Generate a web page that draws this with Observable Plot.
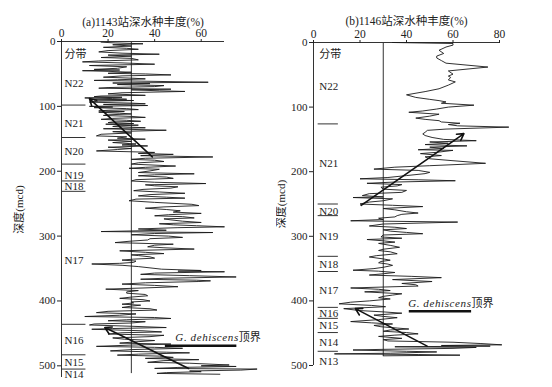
<!DOCTYPE html>
<html><head><meta charset="utf-8">
<script src="https://cdn.jsdelivr.net/npm/d3@7"></script>
<script src="https://cdn.jsdelivr.net/npm/@observablehq/plot@0.6"></script>
<style>
body{margin:0;background:#fff;}
#wrap{position:relative;width:552px;height:387px;background:#fff;}
#wrap svg{position:absolute;top:0;}
</style></head><body><div id="wrap"></div>
<script>
// ---------- DATA ----------
const depthTicks = [0, 100, 200, 300, 400, 500];
const aTicksX = [0, 20, 40, 60];
const bTicksX = [0, 20, 40, 60, 80];

// ODP 1143: [depth (mcd), deep-water species abundance (%)]
const aProfile = [[1,17],[2.2,23],[3.5,35],[5,22],[7,30],[9,18],[10.5,28],[12,33],[14,20],[16,16],[18,26],[19.6,42],[21,20],[22.5,30],[24.7,17],[26,30],[28.3,33],[30,16],[31.4,9],[33,26],[35,40],[37,12],[39,28],[41.3,24],[43,14],[44,25],[45,9],[46,20],[47.4,30],[49,20],[50,36],[51.5,47],[53,26],[55,18],[56.5,30],[57.6,36],[59,24],[60,14],[61,32],[62.8,63],[64,22],[65,38],[66.4,24],[68,44],[69.5,40],[71,20],[72,16],[73.5,47],[74.5,30],[76,42],[77,53],[79,26],[80.7,20],[82,30],[83,36],[84,17],[85,14],[86,26],[87,10],[88,22],[89,28],[90,14],[91,31],[92,16],[93.5,12],[95,30],[96,36],[97,18],[98.7,37],[100,12],[101,22],[102,14],[103.5,28],[105,33],[106,20],[107,16],[108,27],[109,16],[110.5,25],[111.7,30],[113,20],[114,18],[115.5,30],[117,36],[118.5,22],[120,17],[121.5,28],[123,34],[124,22],[125,20],[126.5,31],[127.5,19],[129,33],[130,24],[131,22],[133,36],[134.5,18],[136.8,45],[139,22],[141,30],[143,17],[145.5,15],[147,28],[149,24],[150.6,36],[152,20],[154,30],[155.8,22],[158,32],[159.5,26],[161,37],[163,20],[165,30],[166.5,24],[168.7,15],[170,30],[171,40],[172.5,33],[174,48],[176,34],[178,65],[180,36],[181.7,30],[183,40],[185,44],[187,33],[189,30],[192,49],[194,36],[195.5,29],[197,42],[199.5,38],[202,33],[204,57],[205.5,40],[207,33],[209,45],[211,48],[213,32],[215,30],[217,40],[219,62],[221,36],[222.5,40],[224,50],[226,47],[228,35],[230,31],[232,42],[234,53],[236,38],[238,33],[240,45],[241.5,53],[243,32],[245.5,29],[248,40],[251,56],[253,59],[255,44],[257,36],[259,45],[261,51],[263,48],[265,60],[267,46],[268.7,40],[270,52],[272,57],[273.5,44],[275,47],[277,52],[279,60],[281,42],[282.6,48],[284,58],[285.7,70],[287,50],[289,33],[291,45],[293,17],[294.5,65],[296,40],[298,30],[300,46],[302,52],[304,38],[306,37],[308,29],[310,23],[312.5,48],[314,40],[316.5,37],[318,44],[320,57],[322.7,25],[325,36],[327,44],[329,30],[330,33],[332,38],[334,40],[335.5,31],[337,26],[338.5,32],[340.5,31],[342,25],[343,13],[345,26],[347,33],[349,38],[351,43],[353,60],[354,50],[355,70],[357,40],[359,34],[361,55],[363,75],[365,44],[366.5,34],[368,58],[369,64],[370,59],[372,36],[374,26],[376,40],[378,50],[380,35],[381.8,19],[384,33],[386,28],[388,28],[390,36],[392,37],[394,30],[396,25],[398,35],[400,38],[401.5,30],[403,31],[405,26],[406.5,34],[408,30],[410,26],[412,38],[414,41],[416,20],[418,15],[420,32],[422,25],[424,10],[425.5,40],[427,47],[429,28],[430.5,20],[432,36],[434,30],[435.5,14],[437,12],[439,30],[441,45],[442.5,22],[443.6,13],[446,35],[447.7,43],[449,26],[451,20],[453,44],[455,38],[457,22],[459,27],[461,40],[463,32],[465,25],[466.5,47],[468,30],[470,15],[471.5,40],[473,52],[475,30],[477,21],[479,45],[480,55],[482,33],[483.5,24],[485,42],[487,48],[488.5,36],[490.5,59],[492,44],[494.6,37],[496,55],[498.7,72],[500,60],[501,75],[502.5,50],[504,40],[505,84],[506.6,77],[508,55],[509,60],[510.5,45],[511.7,41],[513,68]];

// ODP 1146
const bProfile = [[0,34],[1.5,60],[4,60],[7,57],[12,54],[17,56],[21,53],[24,53],[28,55],[32,57],[38,75],[44,58],[49,60],[52,58],[54,59],[58,58],[61,61],[66,58],[71.6,54],[76,48],[81,40],[85,44],[88,50],[90,54],[92,57],[94,55],[97,69],[100,58],[103,53],[106,47],[108,41],[111,54],[114,50],[117,44],[119,48],[121,54],[123,55],[125,63],[127,58],[129,62],[131,84],[134,57],[136,49],[139,48],[141.5,47],[144,48],[147,51],[150,56],[152,70],[154,50],[156,58],[158,48],[160,66],[162,50],[164,56],[166,45],[167,60],[170,53],[172,46],[175,55],[177,48],[180,50],[183,60],[187,74],[190.7,50],[193,35],[196,26],[198,45],[201,50],[203,48],[206,40],[209,32],[211,20],[212.5,45],[214,61],[216,35],[218,23],[220,38],[222,36],[224,29],[227,30],[229,40],[232,38],[234,24],[237,21],[239,30],[240,17],[242,34],[245,30],[247,24],[250,20],[252,34],[254,47],[257,30],[259,35],[262,40],[264,45],[266,38],[268,36],[270,35],[272,28],[274,30],[276,16],[278,62],[281,30],[284,24],[286,35],[288,40],[290,30],[292,33],[294,40],[296,47],[298,30],[301,29],[303,38],[305,23],[307,30],[309,35],[311,28],[314,33],[317,37],[320,30],[322,28],[324,33],[327,36],[330,27],[332,24],[335,30],[337,33],[339,29],[341,28],[343,32],[345,34],[348,30],[350,26],[352.5,17],[354,28],[356,35],[358,30],[360,24],[362,42],[364,55],[367,34],[370,51],[373,38],[375,44],[377,45],[380,16],[382,28],[384,33],[386,22],[389,38],[391,34],[393,30],[395,28],[397,33],[400,24],[402,16],[404.5,11],[407,25],[409,31],[412,13],[415,20],[417,30],[419,38],[422,26],[424,30],[426,36],[429,28],[432,16],[434,25],[435.7,34],[438,26],[440,29],[442,36],[443.5,41],[445,33],[447,30],[449,40],[451,45],[453,35],[455,28],[458,38],[460,30],[462,32],[464,60],[466,72],[468,81],[469,55],[470,76],[471,35],[472,70],[473.5,60],[475,30],[476,17],[478,40],[479,53],[481,33],[482,9],[483,45],[484,63],[485,30]];

// Planktonic foraminiferal zones
const aZoneNames = ["分带","N22","N21","N20","N19","N18","N17","N16","N15","N14"];
const aZoneDepths = [20.6, 65, 126, 169, 207, 224, 337, 461, 495, 513];
const aZoneBounds = [98, 148, 189, 215, 231, 436, 483, 505];

const bZoneNames = ["分带","N22","N21","N20","N19","N18","N17","N16","N15","N14","N13"];
const bZoneDepths = [18.6, 68, 188, 261, 301, 344, 384, 419, 438, 464, 493];
const bZoneBounds = [126, 250, 268, 331, 354.5, 410, 427, 449, 478];

// trend arrows: from (x1,y1) to (x2,y2) in % / mcd
const aArrows = [{x1: 39, y1: 178, x2: 12, y2: 88}, {x1: 54.6, y1: 504, x2: 18.6, y2: 441}];
const bArrows = [{x1: 20.5, y1: 252, x2: 64.7, y2: 141}, {x1: 48.9, y1: 470, x2: 18, y2: 412}];

// G. dehiscens first-occurrence marker
const aMarker = {text: "G. dehiscens顶界", tx: 48.9, ty: 456, ly: 469, lx1: 44.6, lx2: 75.3};
const bMarker = {text: "G. dehiscens顶界", tx: 40.7, ty: 403.5, ly: 416, lx1: 41.2, lx2: 68};

const FONT = "'Liberation Serif','Times New Roman','Noto Sans CJK SC',serif";

function panel(o) {
  const data = o.profile.map(([d, v]) => ({d, v}));
  const zones = o.zoneNames.map((t, i) => ({t, d: o.zoneDepths[i]}));
  return Plot.plot({
    width: 276, height: 387,
    marginLeft: o.mL, marginRight: o.mR, marginTop: o.mT, marginBottom: o.mB,
    style: {fontFamily: FONT, fontSize: "11.5px", background: "transparent", color: "#222"},
    x: {domain: [0, o.xMax]},
    y: {domain: [0, o.yMax], reverse: true},
    marks: [
      Plot.ruleY([0], {x1: 0, x2: o.xMax, stroke: "#333"}),
      Plot.ruleX([0], {y1: 0, y2: o.yMax, stroke: "#333"}),
      Plot.axisX({anchor: "top", ticks: o.xTicks, tickSize: 3, tickPadding: 2, label: null, tickFormat: d => d}),
      Plot.axisY({anchor: "left", ticks: depthTicks, tickSize: 4, tickPadding: 2, tickFormat: d => d,
        label: "深度(mcd)", labelAnchor: "center", labelArrow: "none", labelOffset: o.labelOffset, fontSize: 11}),
      Plot.ruleX([30], {y1: 0, y2: o.refEnd, stroke: "#333"}),
      Plot.line(data, {x: "v", y: "d", stroke: "#1a1a1a", strokeWidth: 0.9}),
      Plot.ruleY(o.zoneBounds, {x1: o.zx1, x2: o.zx2, stroke: "#333"}),
      Plot.text(zones, {x: o.zlx, y: "d", text: "t", textAnchor: "start", fontSize: 11}),
      Plot.arrow(o.arrows, {x1: "x1", y1: "y1", x2: "x2", y2: "y2", stroke: "#111", strokeWidth: 1.6, headLength: 7}),
      Plot.ruleY([o.marker], {y: "ly", x1: "lx1", x2: "lx2", stroke: "#111", strokeWidth: 2.5}),
      Plot.text([o.marker], {x: "tx", y: "ty", text: "text", textAnchor: "start", fontSize: 11}),
      Plot.text([o.title], {frameAnchor: "top", dy: o.titleDy, fontSize: 11.5})
    ]
  });
}

const wrap = document.getElementById("wrap");
const A = panel({profile: aProfile, xMax: 70, yMax: 518, xTicks: aTicksX, mL: 61, mR: 52, mT: 41, mB: 10,
  labelOffset: 46, refEnd: 512, zoneNames: aZoneNames, zoneDepths: aZoneDepths, zoneBounds: aZoneBounds,
  zx1: 0, zx2: 10.5, zlx: 1.3, arrows: aArrows, marker: aMarker, title: "(a)1143站深水种丰度(%)", titleDy: -24});
const B = panel({profile: bProfile, xMax: 80, yMax: 500, xTicks: bTicksX, mL: 37, mR: 53, mT: 42, mB: 22,
  labelOffset: 36, refEnd: 486, zoneNames: bZoneNames, zoneDepths: bZoneDepths, zoneBounds: bZoneBounds,
  zx1: 2, zx2: 10.7, zlx: 2.5, arrows: bArrows, marker: bMarker, title: "(b)1146站深水种丰度(%)", titleDy: -26});
A.style.left = "0px";
B.style.left = "276px";
wrap.appendChild(A);
wrap.appendChild(B);

// italicize the species name
d3.select(wrap).selectAll("text").filter(function() { return this.textContent === "G. dehiscens顶界"; })
  .each(function() {
    const t = d3.select(this);
    t.text(null);
    t.append("tspan").attr("font-style", "italic").attr("letter-spacing", "0.6px").text("G. dehiscens");
    t.append("tspan").text("顶界");
  });
</script></body></html>
